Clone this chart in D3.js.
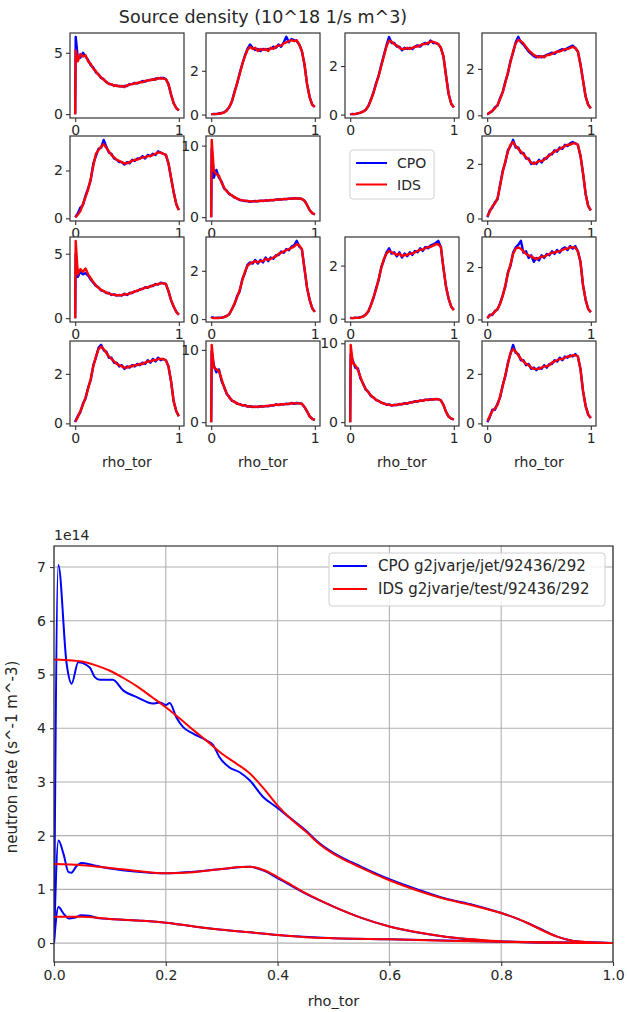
<!DOCTYPE html>
<html><head><meta charset="utf-8">
<script src="https://cdn.jsdelivr.net/npm/d3@7"></script>
<style>body{margin:0;background:#fff}svg{display:block;font-family:"DejaVu Sans",sans-serif}</style>
</head><body><svg id="c" width="627" height="1012"></svg>
<script>
// ---------- top grid data ----------
const rhoGrid = [0,0.005,0.025,0.05,0.075,0.1,0.125,0.15,0.175,0.2,0.225,0.25,0.275,0.3,0.325,0.35,0.375,0.4,0.425,0.45,0.475,0.5,0.525,0.55,0.575,0.6,0.625,0.65,0.675,0.7,0.725,0.75,0.775,0.8,0.825,0.85,0.875,0.9,0.925,0.95,0.975,1.0];
const seriesNames = ["CPO", "IDS"];
const smallTickX = [0, 1];
const smallYTicks = [[0,5],[0,2],[0,2],[0,2],[0,2],[0,10],[0,2],[0,5],[0,2],[0,2],[0,2],[0,2],[0,10],[0,10],[0,2]];
const idsPanels = [
[0,5.2,4.3,4.9,4.7,4.8,4.3,4.1,3.7,3.5,3.2,3.0,2.8,2.65,2.45,2.45,2.3,2.35,2.25,2.3,2.2,2.35,2.4,2.45,2.5,2.55,2.6,2.6,2.7,2.75,2.75,2.85,2.8,2.95,2.9,2.9,2.85,2.45,1.6,0.9,0.5,0.3],
[0.02,0.02,0.02,0.03,0.04,0.06,0.1,0.18,0.35,0.6,1.0,1.45,1.85,2.3,2.65,2.95,3.1,3.0,3.05,2.9,3.0,2.95,3.0,2.9,3.05,3.0,3.1,3.15,3.15,3.25,3.3,3.35,3.4,3.35,3.4,3.2,2.9,2.3,1.4,0.8,0.45,0.35],
[0.02,0.02,0.02,0.03,0.05,0.08,0.12,0.2,0.35,0.6,0.9,1.25,1.6,2.0,2.4,2.8,3.05,3.0,2.9,2.85,2.75,2.7,2.7,2.75,2.7,2.75,2.8,2.8,2.85,2.9,2.9,2.95,3.0,3.0,2.95,2.9,2.75,2.4,1.6,0.85,0.45,0.3],
[0.05,0.06,0.1,0.2,0.3,0.45,0.7,1.0,1.4,1.85,2.3,2.75,3.1,3.25,3.2,3.1,2.95,2.8,2.7,2.6,2.55,2.5,2.55,2.5,2.6,2.6,2.65,2.7,2.75,2.75,2.8,2.85,2.85,2.9,2.95,2.9,2.75,2.2,1.5,0.8,0.45,0.3],
[0.05,0.06,0.15,0.3,0.6,0.9,1.2,1.65,2.2,2.7,2.85,3.0,3.1,2.95,2.8,2.65,2.55,2.45,2.4,2.35,2.3,2.3,2.35,2.4,2.45,2.45,2.5,2.55,2.55,2.6,2.6,2.65,2.7,2.75,2.75,2.7,2.65,2.3,1.7,1.1,0.6,0.35],
[0,10.8,6.5,6.0,5.8,4.8,4.1,3.6,3.3,3.0,2.8,2.6,2.45,2.35,2.3,2.25,2.2,2.2,2.2,2.25,2.25,2.3,2.3,2.35,2.35,2.4,2.45,2.45,2.5,2.5,2.55,2.55,2.6,2.6,2.6,2.6,2.55,2.3,1.7,1.0,0.55,0.4],
[0.08,0.1,0.25,0.45,0.55,0.75,1.2,1.7,2.1,2.45,2.7,2.8,2.65,2.55,2.45,2.35,2.25,2.15,2.05,2.0,2.05,2.1,2.1,2.15,2.25,2.3,2.4,2.45,2.5,2.55,2.6,2.65,2.7,2.7,2.75,2.75,2.7,2.3,1.65,0.9,0.45,0.3],
[0,6.0,3.4,3.8,3.6,3.85,3.4,3.1,2.8,2.55,2.35,2.2,2.1,2.0,1.9,1.85,1.8,1.8,1.75,1.8,1.85,1.85,1.9,2.0,2.05,2.15,2.2,2.3,2.35,2.4,2.45,2.55,2.6,2.65,2.7,2.7,2.65,2.1,1.4,0.9,0.5,0.26],
[0.04,0.05,0.04,0.05,0.04,0.06,0.08,0.12,0.22,0.4,0.65,0.9,1.2,1.6,1.95,2.2,2.3,2.35,2.4,2.35,2.4,2.4,2.5,2.45,2.5,2.55,2.6,2.7,2.75,2.8,2.85,2.9,2.95,3.0,3.1,3.05,2.9,2.1,1.3,0.8,0.45,0.3],
[0.02,0.02,0.02,0.03,0.03,0.05,0.08,0.15,0.28,0.5,0.8,1.1,1.5,1.9,2.25,2.45,2.55,2.5,2.45,2.4,2.45,2.35,2.4,2.4,2.45,2.45,2.5,2.55,2.6,2.6,2.65,2.7,2.7,2.75,2.8,2.8,2.7,1.9,1.2,0.75,0.45,0.33],
[0.07,0.08,0.15,0.2,0.3,0.4,0.6,0.9,1.3,1.75,2.1,2.5,2.7,2.75,2.7,2.6,2.5,2.45,2.4,2.35,2.3,2.35,2.4,2.4,2.45,2.5,2.55,2.55,2.6,2.6,2.65,2.7,2.7,2.75,2.75,2.75,2.6,2.2,1.3,0.75,0.4,0.28],
[0.08,0.1,0.25,0.5,0.75,1.05,1.4,1.8,2.3,2.7,3.0,3.1,3.0,2.85,2.7,2.6,2.5,2.4,2.35,2.3,2.25,2.25,2.3,2.3,2.35,2.35,2.4,2.4,2.45,2.5,2.5,2.55,2.55,2.6,2.6,2.6,2.55,2.3,1.7,0.9,0.5,0.29],
[0,10.7,7.6,7.3,7.1,6.0,4.8,4.0,3.4,3.05,2.8,2.6,2.45,2.35,2.3,2.2,2.15,2.15,2.1,2.15,2.15,2.2,2.2,2.25,2.3,2.35,2.4,2.4,2.45,2.5,2.5,2.55,2.6,2.6,2.6,2.6,2.55,2.1,1.5,0.8,0.45,0.3],
[0,9.8,7.5,7.2,6.6,5.7,4.8,4.2,3.8,3.4,3.1,2.85,2.65,2.5,2.35,2.25,2.2,2.15,2.15,2.2,2.25,2.3,2.35,2.4,2.45,2.55,2.6,2.65,2.7,2.75,2.8,2.85,2.85,2.9,2.9,2.9,2.75,2.2,1.3,0.7,0.45,0.34],
[0.1,0.12,0.3,0.5,0.6,0.75,1.1,1.5,1.95,2.4,2.85,3.0,2.9,2.75,2.6,2.5,2.4,2.35,2.25,2.2,2.2,2.2,2.25,2.3,2.3,2.35,2.45,2.5,2.55,2.6,2.6,2.65,2.7,2.7,2.75,2.75,2.7,2.2,1.3,0.7,0.35,0.22]
];
const cpoPanels = [
[0,6.3,4.6,4.6,5.0,4.7,4.4,4.0,3.8,3.4,3.25,2.95,2.85,2.6,2.5,2.4,2.35,2.3,2.3,2.25,2.3,2.3,2.45,2.45,2.55,2.5,2.6,2.7,2.65,2.75,2.8,2.8,2.9,2.9,2.95,2.95,2.85,2.45,1.6,0.9,0.5,0.3],
[0.02,0.02,0.03,0.02,0.05,0.07,0.1,0.2,0.35,0.6,1.05,1.4,1.9,2.3,2.7,3.0,3.2,3.05,2.95,3.0,2.9,3.0,2.95,3.0,3.0,3.1,3.05,3.2,3.1,3.3,3.55,3.3,3.45,3.4,3.35,3.2,2.9,2.3,1.4,0.8,0.45,0.35],
[0.02,0.02,0.03,0.02,0.05,0.08,0.13,0.2,0.35,0.62,0.92,1.3,1.6,2.05,2.45,2.85,3.2,2.95,2.95,2.8,2.8,2.65,2.75,2.7,2.75,2.7,2.8,2.85,2.8,2.9,2.95,2.9,3.05,2.95,2.95,2.9,2.75,2.4,1.6,0.85,0.45,0.3],
[0.05,0.05,0.12,0.18,0.35,0.42,0.75,1.0,1.45,1.8,2.35,2.7,3.15,3.38,3.15,3.05,2.9,2.75,2.65,2.55,2.5,2.55,2.5,2.55,2.6,2.65,2.7,2.65,2.75,2.8,2.85,2.8,2.9,2.95,3.0,2.9,2.75,2.2,1.5,0.8,0.45,0.3],
[0.05,0.08,0.2,0.45,0.55,0.95,1.25,1.6,2.3,2.6,2.9,2.95,3.28,3.0,2.75,2.7,2.5,2.45,2.35,2.35,2.25,2.35,2.3,2.45,2.4,2.5,2.5,2.6,2.5,2.65,2.6,2.7,2.65,2.8,2.75,2.7,2.65,2.3,1.7,1.1,0.6,0.35],
[0,9.5,5.5,6.6,5.5,5.0,4.0,3.7,3.2,3.05,2.75,2.6,2.4,2.35,2.25,2.25,2.15,2.2,2.25,2.2,2.3,2.25,2.35,2.3,2.4,2.35,2.45,2.5,2.45,2.55,2.5,2.6,2.55,2.65,2.6,2.6,2.55,2.3,1.7,1.0,0.55,0.4],
[0.05,0.08,0.3,0.4,0.6,0.7,1.25,1.75,2.05,2.5,2.65,2.88,2.6,2.6,2.4,2.4,2.2,2.2,2.0,2.05,2.0,2.15,2.05,2.2,2.2,2.35,2.35,2.5,2.45,2.6,2.55,2.7,2.65,2.75,2.8,2.75,2.7,2.3,1.65,0.9,0.45,0.3],
[0,5.0,3.2,3.6,3.4,3.5,3.3,3.0,2.75,2.5,2.4,2.15,2.1,1.95,1.95,1.8,1.85,1.75,1.8,1.75,1.9,1.8,1.95,1.95,2.1,2.1,2.25,2.25,2.4,2.35,2.5,2.5,2.65,2.6,2.75,2.7,2.65,2.1,1.4,0.9,0.5,0.26],
[0.1,0.08,0.06,0.05,0.06,0.05,0.09,0.13,0.2,0.42,0.62,0.95,1.15,1.65,1.9,2.25,2.35,2.3,2.45,2.3,2.45,2.35,2.55,2.4,2.55,2.5,2.65,2.65,2.8,2.75,2.9,2.85,3.0,3.05,3.24,3.0,2.9,2.1,1.3,0.8,0.45,0.3],
[0.02,0.03,0.02,0.04,0.03,0.06,0.08,0.16,0.27,0.52,0.78,1.15,1.45,1.95,2.2,2.5,2.65,2.45,2.5,2.35,2.5,2.3,2.45,2.35,2.5,2.4,2.55,2.5,2.65,2.55,2.7,2.65,2.75,2.8,2.85,2.93,2.7,1.9,1.2,0.75,0.45,0.33],
[0.05,0.07,0.18,0.17,0.33,0.38,0.62,0.92,1.25,1.8,2.05,2.55,2.75,2.85,3.0,2.55,2.6,2.35,2.45,2.2,2.35,2.25,2.45,2.35,2.5,2.45,2.6,2.5,2.65,2.55,2.7,2.75,2.65,2.8,2.7,2.8,2.6,2.2,1.3,0.75,0.4,0.28],
[0.05,0.12,0.3,0.45,0.8,1.0,1.45,1.75,2.35,2.65,3.05,3.17,2.95,2.9,2.65,2.65,2.45,2.45,2.3,2.35,2.2,2.3,2.25,2.35,2.3,2.4,2.35,2.45,2.4,2.55,2.45,2.6,2.5,2.65,2.55,2.6,2.55,2.3,1.7,0.9,0.5,0.29],
[0,9.8,7.9,6.9,7.3,5.7,4.9,3.9,3.5,2.95,2.85,2.55,2.5,2.3,2.35,2.15,2.2,2.1,2.15,2.1,2.2,2.15,2.25,2.2,2.3,2.3,2.45,2.35,2.5,2.45,2.55,2.5,2.65,2.55,2.65,2.6,2.55,2.1,1.5,0.8,0.45,0.3],
[0,8.6,7.8,6.9,6.8,5.5,4.9,4.1,3.85,3.3,3.15,2.8,2.7,2.45,2.4,2.2,2.25,2.1,2.2,2.15,2.3,2.25,2.4,2.35,2.5,2.5,2.65,2.6,2.75,2.7,2.85,2.8,2.9,2.85,2.95,2.9,2.75,2.2,1.3,0.7,0.45,0.34],
[0.05,0.08,0.25,0.55,0.55,0.8,1.05,1.55,1.9,2.45,2.8,3.17,2.85,2.8,2.55,2.55,2.35,2.4,2.2,2.25,2.15,2.25,2.2,2.35,2.25,2.4,2.4,2.55,2.5,2.65,2.55,2.7,2.65,2.75,2.7,2.8,2.7,2.2,1.3,0.7,0.35,0.22]
];

// ---------- bottom chart data (units of 1e14) ----------
const idsRhoA = [0,0.02,0.05,0.075,0.1,0.125,0.15,0.175,0.2,0.225,0.25,0.275,0.3,0.325,0.35,0.375,0.4,0.425,0.45,0.475,0.5,0.525,0.55,0.575,0.6,0.65,0.7,0.75,0.8,0.825,0.85,0.875,0.9,0.925,0.95,0.975,1.0];
const idsValA = [5.28,5.27,5.24,5.17,5.07,4.93,4.77,4.58,4.39,4.18,3.96,3.75,3.53,3.35,3.16,2.88,2.56,2.3,2.08,1.84,1.66,1.52,1.4,1.28,1.17,0.98,0.82,0.7,0.56,0.47,0.36,0.23,0.12,0.05,0.02,0.005,0];
const cpoRhoA = [0,0.0077,0.0226,0.0315,0.0434,0.064,0.073,0.082,0.105,0.124,0.148,0.177,0.19,0.2,0.207,0.219,0.231,0.249,0.273,0.285,0.296,0.314,0.332,0.35,0.374,0.398,0.421,0.45,0.475,0.5,0.55,0.6,0.65,0.7,0.75,0.8,0.825,0.85,0.875,0.9,0.925,0.95,1.0];
const cpoValA = [0,7.04,5.2,4.83,5.23,5.13,4.95,4.9,4.9,4.7,4.58,4.46,4.48,4.43,4.47,4.2,4.02,3.9,3.77,3.68,3.46,3.27,3.18,3.03,2.72,2.53,2.34,2.1,1.86,1.68,1.42,1.19,1.0,0.83,0.71,0.56,0.47,0.36,0.24,0.12,0.05,0.02,0];
const idsRhoB = [0,0.05,0.1,0.15,0.2,0.25,0.3,0.325,0.35,0.375,0.4,0.425,0.45,0.475,0.5,0.55,0.6,0.65,0.7,0.75,0.8,0.85,0.9,1.0];
const idsValB = [1.47,1.45,1.4,1.34,1.3,1.32,1.38,1.41,1.42,1.36,1.23,1.08,0.93,0.8,0.68,0.47,0.31,0.2,0.12,0.07,0.03,0.015,0.005,0];
const cpoRhoB = [0,0.008,0.017,0.026,0.031,0.04,0.049,0.07,0.1,0.15,0.2,0.25,0.3,0.35,0.375,0.4,0.45,0.5,0.55,0.6,0.7,0.8,0.9,1.0];
const cpoValB = [0,1.91,1.66,1.32,1.31,1.43,1.49,1.45,1.39,1.33,1.3,1.33,1.38,1.42,1.35,1.21,0.92,0.68,0.47,0.31,0.12,0.03,0.005,0];
const idsRhoC = [0,0.05,0.1,0.15,0.2,0.25,0.3,0.35,0.4,0.45,0.5,0.6,0.7,0.8,0.9,1.0];
const idsValC = [0.49,0.49,0.45,0.42,0.38,0.31,0.25,0.2,0.15,0.11,0.09,0.07,0.045,0.025,0.01,0];
const cpoRhoC = [0,0.008,0.017,0.026,0.036,0.049,0.063,0.081,0.1,0.15,0.2,0.25,0.3,0.35,0.4,0.5,0.6,0.8,1.0];
const cpoValC = [0,0.67,0.55,0.46,0.47,0.52,0.51,0.46,0.45,0.42,0.38,0.31,0.25,0.2,0.15,0.09,0.07,0.025,0];
const bigXTicks = [0,0.2,0.4,0.6,0.8,1.0];
const bigYTicks = [0,1,2,3,4,5,6,7];
const bigLegend = ["CPO g2jvarje/jet/92436/292", "IDS g2jvarje/test/92436/292"];

// ---------- drawing ----------
const BLUE = "#0000ff", RED = "#ff0000", TXT = "#262626", SPINE = "#333";
const svg = d3.select("#c");

svg.append("text").attr("x", 263).attr("y", 23).attr("text-anchor", "middle")
  .attr("font-size", 17.5).attr("fill", TXT).text("Source density (10^18 1/s m^3)");

const colX = [70, 206, 345, 482], rowY = [33, 136, 237, 341], pw = 114, ph = 85;
const LEGEND_SLOT = 6;
let pi = 0;
for (let s = 0; s < 16; s++) {
  const r = Math.floor(s / 4), c = s % 4;
  if (s === LEGEND_SLOT) {
    const lg = svg.append("g").attr("transform", `translate(${colX[c] + 5},150)`);
    lg.append("rect").attr("width", 84).attr("height", 49).attr("rx", 3)
      .attr("fill", "#fff").attr("stroke", "#d0d0d0");
    [BLUE, RED].forEach((col, k) => {
      const yy = 13 + k * 21.5;
      lg.append("line").attr("x1", 6).attr("x2", 37).attr("y1", yy).attr("y2", yy)
        .attr("stroke", col).attr("stroke-width", 2);
      lg.append("text").attr("x", 47).attr("y", yy + 5).attr("font-size", 14)
        .attr("fill", TXT).text(seriesNames[k]);
    });
    continue;
  }
  const red = idsPanels[pi], blue = cpoPanels[pi], yt = smallYTicks[pi];
  const g = svg.append("g").attr("transform", `translate(${colX[c]},${rowY[r]})`);
  const all = red.concat(blue);
  const mn = d3.min(all), mx = d3.max(all), pad = (mx - mn) * 0.05;
  const x = d3.scaleLinear().domain([-0.05, 1.05]).range([0, pw]);
  const y = d3.scaleLinear().domain([mn - pad, mx + pad]).range([ph, 0]);
  g.append("rect").attr("width", pw).attr("height", ph).attr("fill", "#fff");
  const cid = "clip" + pi;
  g.append("clipPath").attr("id", cid).append("rect").attr("width", pw).attr("height", ph);
  const line = d3.line().x((d, i) => x(rhoGrid[i])).y(d => y(d));
  const lines = g.append("g").attr("clip-path", `url(#${cid})`);
  lines.append("path").attr("d", line(blue)).attr("fill", "none").attr("stroke", BLUE).attr("stroke-width", 2.4).attr("stroke-linejoin", "round");
  lines.append("path").attr("d", line(red)).attr("fill", "none").attr("stroke", RED).attr("stroke-width", 2.4).attr("stroke-linejoin", "round");
  g.append("rect").attr("width", pw).attr("height", ph).attr("fill", "none").attr("stroke", SPINE).attr("stroke-width", 1.2);
  const ya = g.append("g").call(d3.axisLeft(y).tickValues(yt).tickSize(4).tickPadding(3).tickFormat(d3.format("d")));
  const xa = g.append("g").attr("transform", `translate(0,${ph})`)
    .call(d3.axisBottom(x).tickValues(smallTickX).tickSize(4).tickPadding(3).tickFormat(d3.format("d")));
  [ya, xa].forEach(a => {
    a.select(".domain").remove();
    a.selectAll("line").attr("stroke", SPINE).attr("stroke-width", 1.1);
    a.selectAll("text").attr("font-size", 14).attr("fill", TXT).attr("font-family", "DejaVu Sans");
  });
  if (r === 3) {
    g.append("text").attr("x", pw / 2).attr("y", 126).attr("text-anchor", "middle")
      .attr("font-size", 14).attr("fill", TXT).text("rho_tor");
  }
  pi++;
}

// ---------- bottom chart ----------
const L = 54, R = 613, T = 546, B = 962;
const allVals = [].concat(idsValA, cpoValA, idsValB, cpoValB, idsValC, cpoValC);
const bmn = d3.min(allVals), bmx = d3.max(allVals), bpad = (bmx - bmn) * 0.05;
const bx = d3.scaleLinear().domain([0, 1]).range([L, R]);
const by = d3.scaleLinear().domain([bmn - bpad, bmx + bpad]).range([B, T]);
const bg = svg.append("g");
bg.selectAll(".gx").data(bigXTicks).enter().append("line")
  .attr("x1", d => bx(d)).attr("x2", d => bx(d)).attr("y1", T).attr("y2", B)
  .attr("stroke", "#b0b0b0").attr("stroke-width", 1.1);
bg.selectAll(".gy").data(bigYTicks).enter().append("line")
  .attr("x1", L).attr("x2", R).attr("y1", d => by(d)).attr("y2", d => by(d))
  .attr("stroke", "#b0b0b0").attr("stroke-width", 1.1);
bg.append("clipPath").attr("id", "bclip").append("rect").attr("x", L).attr("y", T).attr("width", R - L).attr("height", B - T);
const bl = bg.append("g").attr("clip-path", "url(#bclip)");
const mkLine = (xs, curve) => d3.line().x((d, i) => bx(xs[i])).y(d => by(d)).curve(curve);
[[cpoRhoA, cpoValA], [cpoRhoB, cpoValB], [cpoRhoC, cpoValC]].forEach(([xs, ys]) => {
  bl.append("path").attr("d", mkLine(xs, d3.curveMonotoneX)(ys)).attr("fill", "none")
    .attr("stroke", BLUE).attr("stroke-width", 2).attr("stroke-linejoin", "round");
});
[[idsRhoA, idsValA], [idsRhoB, idsValB], [idsRhoC, idsValC]].forEach(([xs, ys]) => {
  bl.append("path").attr("d", mkLine(xs, d3.curveMonotoneX)(ys)).attr("fill", "none")
    .attr("stroke", RED).attr("stroke-width", 2).attr("stroke-linejoin", "round");
});
bg.append("rect").attr("x", L).attr("y", T).attr("width", R - L).attr("height", B - T)
  .attr("fill", "none").attr("stroke", SPINE).attr("stroke-width", 1.2);
const bxa = bg.append("g").attr("transform", `translate(0,${B})`)
  .call(d3.axisBottom(bx).tickValues(bigXTicks).tickSize(4).tickPadding(4).tickFormat(d3.format(".1f")));
const bya = bg.append("g").attr("transform", `translate(${L},0)`)
  .call(d3.axisLeft(by).tickValues(bigYTicks).tickSize(4).tickPadding(4).tickFormat(d3.format("d")));
[bxa, bya].forEach(a => {
  a.select(".domain").remove();
  a.selectAll("line").attr("stroke", SPINE).attr("stroke-width", 1.1);
  a.selectAll("text").attr("font-size", 14).attr("fill", TXT).attr("font-family", "DejaVu Sans");
});
bg.append("text").attr("x", L).attr("y", 540).attr("font-size", 14).attr("fill", TXT).text("1e14");
bg.append("text").attr("x", (L + R) / 2).attr("y", 1006).attr("text-anchor", "middle")
  .attr("font-size", 14.5).attr("fill", TXT).text("rho_tor");
bg.append("text").attr("transform", `translate(17,${(T + B) / 2 + 3}) rotate(-90)`).attr("text-anchor", "middle")
  .attr("font-size", 15).attr("fill", TXT).text("neutron rate (s^-1 m^-3)");
const blg = bg.append("g").attr("transform", "translate(329,553)");
blg.append("rect").attr("width", 276).attr("height", 53).attr("rx", 3).attr("fill", "#fff")
  .attr("fill-opacity", 0.85).attr("stroke", "#d0d0d0");
[BLUE, RED].forEach((col, k) => {
  const yy = 13 + k * 23;
  blg.append("line").attr("x1", 4).attr("x2", 38).attr("y1", yy).attr("y2", yy)
    .attr("stroke", col).attr("stroke-width", 2);
  blg.append("text").attr("x", 49).attr("y", yy + 5).attr("font-size", 15)
    .attr("fill", TXT).text(bigLegend[k]);
});
</script></body></html>
